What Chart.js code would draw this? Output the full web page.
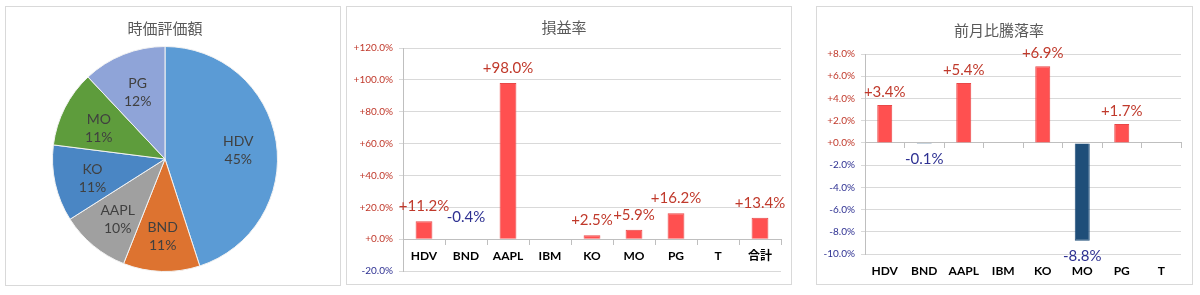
<!DOCTYPE html>
<html>
<head>
<meta charset="utf-8">
<script src="https://cdn.jsdelivr.net/npm/chart.js@4.4.1/dist/chart.umd.min.js"></script>
<style>
  html, body { margin: 0; padding: 0; background: #fff; }
  body { width: 1200px; height: 295px; position: relative; overflow: hidden; }
  .panel { position: absolute; border: 1px solid #D9D9D9; background: #fff; }
  .panel canvas { position: absolute; left: 0; top: 0; }
</style>
</head>
<body>
<div class="panel" style="left:5px;top:6px;width:334px;height:278px"><canvas id="pieChart" width="334" height="278"></canvas></div>
<div class="panel" style="left:346px;top:6px;width:444px;height:277px"><canvas id="profitChart" width="444" height="277"></canvas></div>
<div class="panel" style="left:816px;top:6px;width:375px;height:277px"><canvas id="monthChart" width="375" height="277"></canvas></div>
<script>
// 時価評価額 (構成比 %)
const pieLabels = ['HDV', 'BND', 'AAPL', 'KO', 'MO', 'PG'];
const pieShares = [45, 11, 10, 11, 11, 12];
const pieColors = ['#5B9BD5', '#DD7330', '#A0A0A0', '#4A86C4', '#5E9C3C', '#8FA4D8'];

// 損益率 (%)
const profitLabels = ['HDV', 'BND', 'AAPL', 'IBM', 'KO', 'MO', 'PG', 'T', '合計'];
const profitRates = [11.2, -0.4, 98.0, null, 2.5, 5.9, 16.2, null, 13.4];
const profitTicks = [-20, 0, 20, 40, 60, 80, 100, 120];

// 前月比騰落率 (%)
const monthLabels = ['HDV', 'BND', 'AAPL', 'IBM', 'KO', 'MO', 'PG', 'T'];
const monthRates = [3.4, -0.1, 5.4, null, 6.9, -8.8, 1.7, null];
const monthTicks = [-10, -8, -6, -4, -2, 0, 2, 4, 6, 8];

const RED = '#C0392B';
const BLUE = '#2E3192';
const GRID = '#D9D9D9';
const AXIS = '#BFBFBF';
const LATIN = 'Lato, "Noto Sans CJK JP", sans-serif';
const CJK = '"Noto Sans CJK JP", sans-serif';

Chart.defaults.font.family = LATIN;
Chart.defaults.animation = false;

function pct(v) {
    return (v >= 0 ? '+' : '') + v.toFixed(1) + '%';
}

// 棒の先に値ラベル
const barValueLabels = {
    id: 'barValueLabels',
    afterDatasetsDraw(chart, args, opts) {
        const ctx = chart.ctx;
        chart.data.datasets.forEach((ds, di) => {
            chart.getDatasetMeta(di).data.forEach((bar, i) => {
                const v = ds.data[i];
                if (v == null) return;
                let y;
                if (v >= 0) y = bar.y - opts.gap;
                else if (opts.negAbove) y = bar.base - opts.negGap;
                else y = bar.y + opts.gap + 2;
                ctx.save();
                ctx.font = '15px ' + LATIN;
                ctx.fillStyle = v >= 0 ? RED : BLUE;
                ctx.textAlign = 'center';
                ctx.textBaseline = 'middle';
                ctx.fillText(pct(v), bar.x, y);
                ctx.restore();
            });
        });
    }
};

// 円グラフの中にラベル
const pieInnerLabels = {
    id: 'pieInnerLabels',
    afterDatasetsDraw(chart) {
        const ctx = chart.ctx;
        const ds = chart.data.datasets[0];
        chart.getDatasetMeta(0).data.forEach((arc, i) => {
            const p = arc.getProps(['x', 'y', 'startAngle', 'endAngle', 'outerRadius']);
            const mid = (p.startAngle + p.endAngle) / 2;
            const r = p.outerRadius * 0.66;
            const cx = p.x + Math.cos(mid) * r;
            const cy = p.y + Math.sin(mid) * r + 3;
            ctx.save();
            ctx.font = '14px ' + LATIN;
            ctx.fillStyle = '#404040';
            ctx.textAlign = 'center';
            ctx.textBaseline = 'middle';
            ctx.fillText(chart.data.labels[i], cx, cy - 9);
            ctx.fillText(ds.data[i] + '%', cx, cy + 9);
            ctx.restore();
        });
    }
};

function titleOpts(text, top, bottom) {
    return {
        display: true,
        text,
        color: '#595959',
        font: { family: CJK, size: 15, weight: 'normal' },
        padding: { top, bottom }
    };
}

function yAxis(ticks, width) {
    return {
        min: ticks[0],
        max: ticks[ticks.length - 1],
        afterBuildTicks(scale) { scale.ticks = ticks.map(v => ({ value: v })); },
        afterFit(scale) { scale.width = width; },
        grid: { color: GRID, tickLength: 4 },
        border: { color: AXIS },
        ticks: {
            padding: 6,
            font: { size: 10 },
            color: c => c.tick.value < 0 ? BLUE : RED,
            callback: v => pct(v)
        }
    };
}

function barColors(values) {
    return values.map(v => v != null && v < 0 ? '#1F4E79' : '#FF5050');
}

const catTicks = { padding: 5, color: '#000', maxRotation: 0, autoSkip: false, font: { size: 12, weight: 'bold' } };

// 時価評価額
new Chart(document.getElementById('pieChart'), {
    type: 'pie',
    data: {
        labels: pieLabels,
        datasets: [{
            data: pieShares,
            backgroundColor: pieColors,
            borderColor: '#F2F2F2',
            borderWidth: 1
        }]
    },
    options: {
        responsive: false,
        layout: { padding: { left: 30, right: 46, top: 0, bottom: 13 } },
        plugins: {
            legend: { display: false },
            tooltip: { enabled: false },
            title: titleOpts('時価評価額', 12, 9)
        }
    },
    plugins: [pieInnerLabels]
});

// 損益率
new Chart(document.getElementById('profitChart'), {
    type: 'bar',
    data: {
        labels: profitLabels,
        datasets: [{
            data: profitRates,
            backgroundColor: barColors(profitRates),
            borderColor: profitRates.map(v => v != null && v < 0 ? '#1F4E79' : '#E84848'),
            borderWidth: 1,
            barPercentage: 0.4,
            categoryPercentage: 1
        }]
    },
    options: {
        responsive: false,
        layout: { padding: { left: 0, right: 10, top: 0, bottom: 13 } },
        scales: {
            x: {
                position: { y: 0 },
                offset: true,
                grid: { offset: true, drawOnChartArea: false, tickLength: 5, color: AXIS },
                border: { color: AXIS },
                ticks: catTicks
            },
            y: yAxis(profitTicks, 56)
        },
        plugins: {
            legend: { display: false },
            tooltip: { enabled: false },
            title: titleOpts('損益率', 11, 12),
            barValueLabels: { gap: 15, negAbove: true, negGap: 22 }
        }
    },
    plugins: [barValueLabels]
});

// 前月比騰落率
new Chart(document.getElementById('monthChart'), {
    type: 'bar',
    data: {
        labels: monthLabels,
        datasets: [{
            data: monthRates,
            backgroundColor: barColors(monthRates),
            borderColor: monthRates.map(v => v != null && v < 0 ? '#1F4E79' : '#E84848'),
            borderWidth: 1,
            barPercentage: 0.38,
            categoryPercentage: 1
        }]
    },
    options: {
        responsive: false,
        layout: { padding: { left: 0, right: 11, top: 0, bottom: 0 } },
        scales: {
            x: {
                position: 'bottom',
                afterFit(scale) { scale.height = 30; },
                grid: { display: false, drawTicks: false },
                border: { display: false },
                ticks: Object.assign({}, catTicks, { padding: 10 })
            },
            zero: {
                type: 'category',
                axis: 'x',
                position: { y: 0 },
                offset: true,
                grid: { offset: true, drawOnChartArea: false, tickLength: 5, color: AXIS },
                border: { color: AXIS },
                ticks: { display: false }
            },
            y: yAxis(monthTicks, 48)
        },
        plugins: {
            legend: { display: false },
            tooltip: { enabled: false },
            title: titleOpts('前月比騰落率', 14, 15),
            barValueLabels: { gap: 13, negAbove: false }
        }
    },
    plugins: [barValueLabels]
});
</script>
</body>
</html>
